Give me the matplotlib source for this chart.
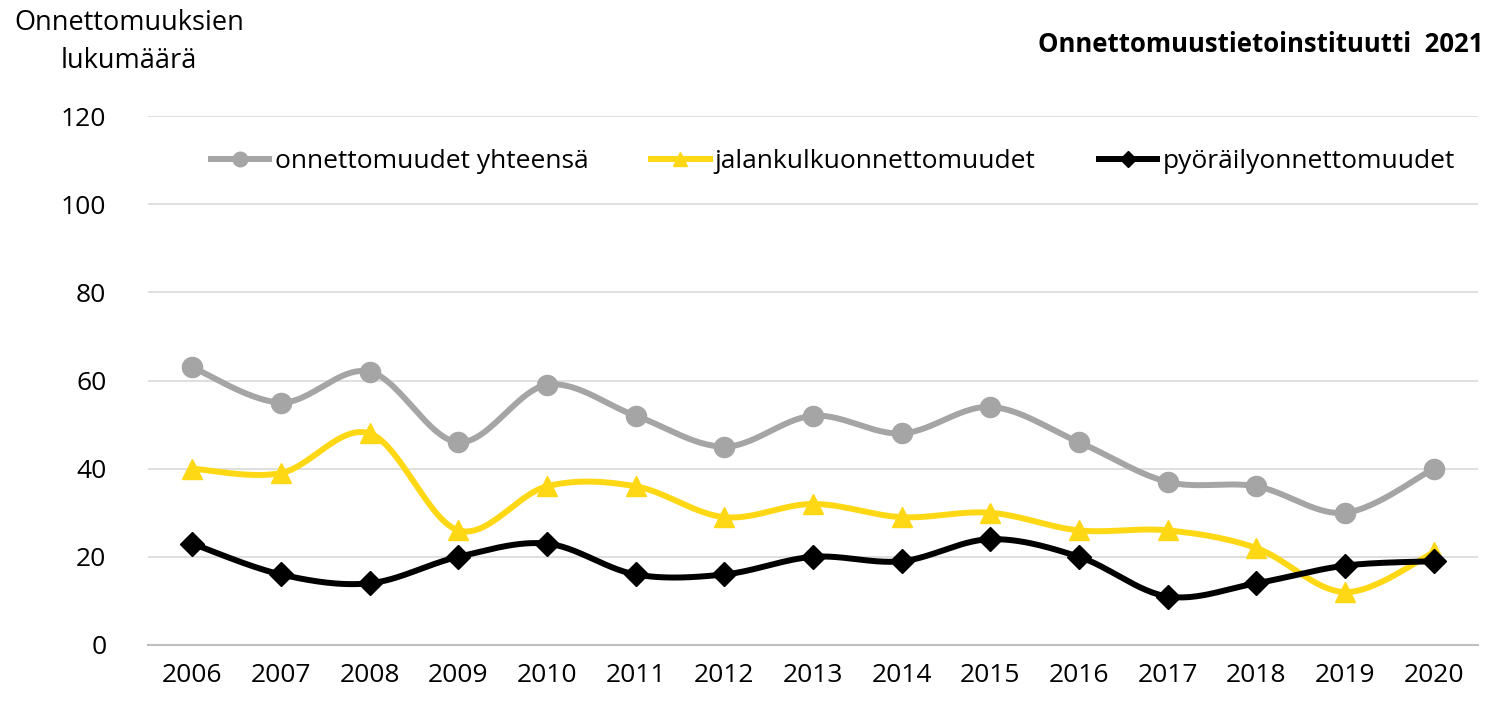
import numpy as np
import matplotlib
matplotlib.use("Agg")
import matplotlib.pyplot as plt

years = ["2006", "2007", "2008", "2009", "2010", "2011", "2012", "2013",
         "2014", "2015", "2016", "2017", "2018", "2019", "2020"]
total = [63, 55, 62, 46, 59, 52, 45, 52, 48, 54, 46, 37, 36, 30, 40]
pedestrian = [40, 39, 48, 26, 36, 36, 29, 32, 29, 30, 26, 26, 22, 12, 21]
cycling = [23, 16, 14, 20, 23, 16, 16, 20, 19, 24, 20, 11, 14, 18, 19]

labels = ["onnettomuudet yhteensä", "jalankulkuonnettomuudet", "pyöräilyonnettomuudet"]
colors = ["#A5A5A5", "#FFD815", "#000000"]
markers = ["o", "^", "D"]

plt.rcParams['font.family'] = ['Open Sans', 'DejaVu Sans']


def smooth(xs, ys, n=30):
    # Excel-like smoothed line (Catmull-Rom as cubic Bezier)
    xs = np.asarray(xs, float)
    ys = np.asarray(ys, float)
    px = np.concatenate([[xs[0]], xs, [xs[-1]]])
    py = np.concatenate([[ys[0]], ys, [ys[-1]]])
    outx, outy = [], []
    t = np.linspace(0, 1, n)
    for i in range(1, len(px) - 2):
        p0 = np.array([px[i], py[i]])
        p3 = np.array([px[i + 1], py[i + 1]])
        c1 = p0 + (np.array([px[i + 1], py[i + 1]]) - np.array([px[i - 1], py[i - 1]])) / 6
        c2 = p3 - (np.array([px[i + 2], py[i + 2]]) - np.array([px[i], py[i]])) / 6
        b = ((1 - t) ** 3)[:, None] * p0 + (3 * (1 - t) ** 2 * t)[:, None] * c1 \
            + (3 * (1 - t) * t ** 2)[:, None] * c2 + (t ** 3)[:, None] * p3
        outx.extend(b[:, 0])
        outy.extend(b[:, 1])
    return outx, outy


fig = plt.figure(figsize=(14.92, 7.02), dpi=100)
ax = fig.add_axes([148 / 1492, 57 / 702, 1330 / 1492, 529 / 702])

x = np.arange(len(years))
handles = []
for vals, lab, col, mk in zip([total, pedestrian, cycling], labels, colors, markers):
    sx, sy = smooth(x, vals)
    ax.plot(sx, sy, color=col, lw=4.3, solid_capstyle='round', zorder=3)
    ms = 12 if mk == "D" else 14.5
    ax.plot(x, vals, linestyle='none', marker=mk, color=col, markersize=ms, zorder=4)
    h, = ax.plot([], [], color=col, lw=4.3, marker=mk, markersize=ms - 4)
    handles.append(h)

ax.set_xlim(-0.5, len(years) - 0.5)
ax.set_ylim(0, 120)
ax.set_yticks(np.arange(0, 121, 20))
ax.set_xticks(x)
ax.set_xticklabels(years)
ax.yaxis.grid(True, color="#D9D9D9", lw=1.2)
ax.set_axisbelow(True)
for s in ["top", "right", "left"]:
    ax.spines[s].set_visible(False)
ax.spines["bottom"].set_color("#BFBFBF")
ax.spines["bottom"].set_linewidth(1.5)
ax.tick_params(axis='both', length=0, labelsize=19, colors="#000000")
ax.tick_params(axis='x', pad=13)
ax.tick_params(axis='y', pad=30)

leg = ax.legend(handles, labels, loc="upper center", bbox_to_anchor=(0.515, 0.982),
                ncol=3, frameon=False, fontsize=19, handlelength=2.2,
                handletextpad=0.2, columnspacing=2.4)

fig.text(129 / 1492, 1 - 42 / 702, "Onnettomuuksien\nlukumäärä", ha="center", va="center",
         multialignment="center", fontsize=19.5, linespacing=1.5)
fig.text(1484 / 1492, 1 - 45 / 702, "Onnettomuustietoinstituutti  2021", ha="right",
         va="center", fontsize=18.5, fontweight="bold")

fig.savefig("out.png", dpi=100)
